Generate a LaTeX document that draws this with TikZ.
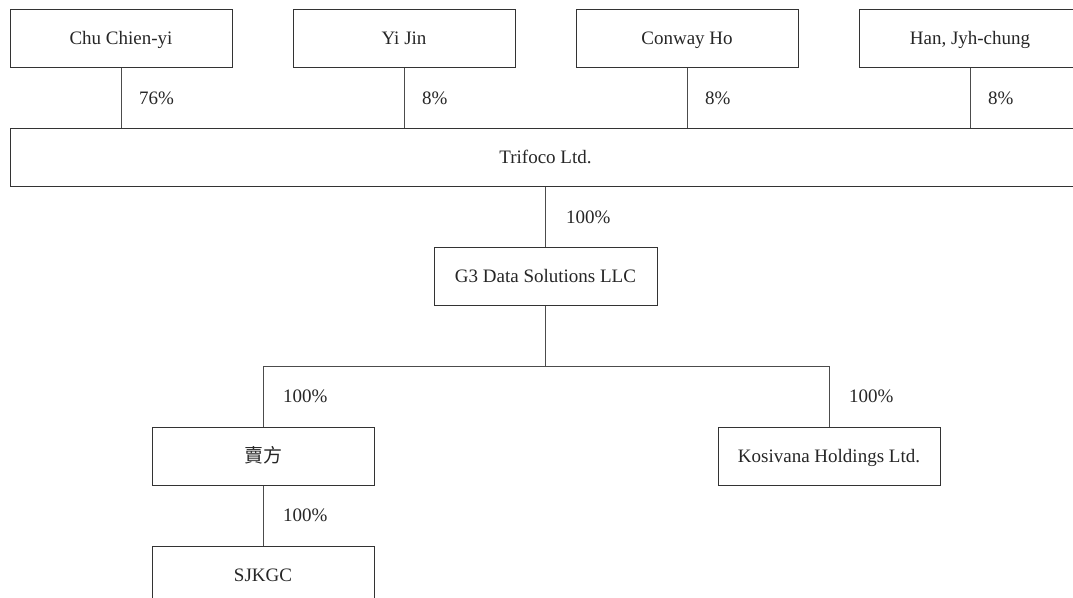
\documentclass[tikz,border=0pt]{standalone}
\usepackage{fontspec}
\setmainfont{Liberation Serif}
\newfontfamily\cjkfont{Noto Sans CJK TC}
\begin{document}
\begin{tikzpicture}[x=1pt,y=-1pt,
  ent/.style={draw=black!80, line width=1pt, minimum width=222pt, minimum height=58pt, inner sep=0pt, text height=12.6pt, text depth=0pt, font=\fontsize{19}{22}\selectfont, text=black!85},
  conn/.style={draw=black!70, line width=1pt},
  pct/.style={anchor=west, inner sep=0pt, text height=12.6pt, text depth=0pt, font=\fontsize{19}{22}\selectfont, text=black!85}]
\useasboundingbox (0,0) rectangle (1073,597);
\clip (0,0) rectangle (1073,597);
% owners
\node[ent] (chu) at (121,38) {Chu Chien-yi};
\node[ent] (yi) at (404,38) {Yi Jin};
\node[ent] (con) at (687,38) {Conway Ho};
\node[ent] (han) at (970,38) {Han, Jyh-chung};
% Trifoco
\node[ent, minimum width=1071pt] (tri) at (545.5,157) {Trifoco Ltd.};
% G3
\node[ent, minimum width=223pt] (g3) at (545.5,276) {G3 Data Solutions LLC};
% subsidiaries
\node[ent] (sel) at (263,456) {\cjkfont 賣方};
\node[ent] (kos) at (829,456) {Kosivana Holdings Ltd.};
\node[ent] (sjk) at (263,575) {SJKGC};
\coordinate (junc) at (545.5,366);
% connectors
\draw[conn] (chu.south) -- (chu.south |- tri.north);
\draw[conn] (yi.south) -- (yi.south |- tri.north);
\draw[conn] (con.south) -- (con.south |- tri.north);
\draw[conn] (han.south) -- (han.south |- tri.north);
\draw[conn] (tri.south -| g3.north) -- (g3.north);
\draw[conn] (g3.south) -- (junc);
\draw[conn] (sel.north) -- (sel.north |- junc) -- (kos.north |- junc) -- (kos.north);
\draw[conn] (sel.south) -- (sjk.north);
% labels
\node[pct] (p1) at (139,98) {76\%};
\node[pct] (p2) at (422,98) {8\%};
\node[pct] (p3) at (705,98) {8\%};
\node[pct] (p4) at (988,98) {8\%};
\node[pct] (p5) at (566,217) {100\%};
\node[pct] (p6) at (283,396) {100\%};
\node[pct] (p7) at (849,396) {100\%};
\node[pct] (p8) at (283,515) {100\%};
\end{tikzpicture}
\end{document}
